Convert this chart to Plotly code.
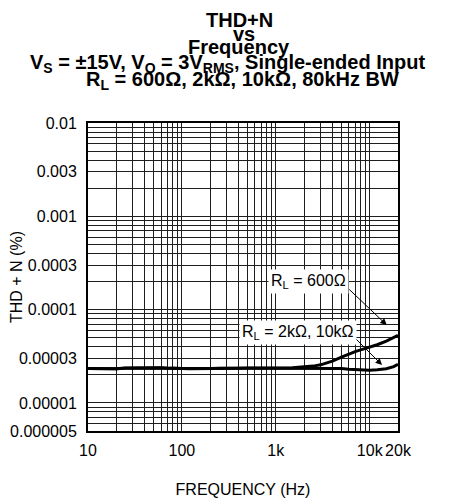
import math
import plotly.graph_objects as go

# ---- data ----
freq_hz = [10, 12, 15, 20, 25, 30, 40, 50, 60, 70, 80, 100, 120, 150, 200, 250, 300, 400, 500,
           700, 1000, 1500, 2000, 2500, 3000, 4000, 5000, 6000, 7000, 8000, 10000, 12000,
           15000, 18000, 20000]
thdn_600 = [2.34e-5, 2.33e-5, 2.32e-5, 2.32e-5, 2.36e-5, 2.37e-5, 2.38e-5, 2.36e-5, 2.38e-5, 2.35e-5,
            2.37e-5, 2.34e-5, 2.33e-5, 2.34e-5, 2.34e-5, 2.35e-5, 2.34e-5, 2.35e-5, 2.36e-5,
            2.35e-5, 2.36e-5, 2.38e-5, 2.42e-5, 2.48e-5, 2.56e-5, 2.8e-5, 3.1e-5, 3.35e-5,
            3.55e-5, 3.7e-5, 3.95e-5, 4.2e-5, 4.6e-5, 5.0e-5, 5.3e-5]
thdn_2k10k = [2.34e-5, 2.33e-5, 2.32e-5, 2.32e-5, 2.35e-5, 2.36e-5, 2.37e-5, 2.35e-5, 2.37e-5, 2.35e-5,
              2.36e-5, 2.34e-5, 2.33e-5, 2.34e-5, 2.34e-5, 2.35e-5, 2.34e-5, 2.35e-5, 2.35e-5,
              2.35e-5, 2.36e-5, 2.37e-5, 2.38e-5, 2.38e-5, 2.37e-5, 2.36e-5, 2.34e-5, 2.3e-5,
              2.28e-5, 2.25e-5, 2.24e-5, 2.27e-5, 2.32e-5, 2.45e-5, 2.6e-5]

x_tick_vals = [10, 100, 1000, 10000, 20000]
x_tick_text = ["10", "100", "1k", "10k", "20k"]
y_tick_vals = [0.01, 0.003, 0.001, 0.0003, 0.0001, 0.00003, 0.00001, 0.000005]
y_tick_text = ["0.01", "0.003", "0.001", "0.0003", "0.0001", "0.00003", "0.00001", "0.000005"]

title_lines = ["THD+N", "vs", "Frequency",
               "V<sub>S</sub> = ±15V, V<sub>O</sub> = 3V<sub>RMS</sub>, Single-ended Input",
               "R<sub>L</sub> = 600Ω, 2kΩ, 10kΩ, 80kHz BW"]
label_600 = "R<sub>L</sub> = 600Ω"
label_2k = "R<sub>L</sub> = 2kΩ, 10kΩ"

# minor grid values
x_minor = [m * 10 ** d for d in range(1, 5) for m in range(1, 10) if m * 10 ** d <= 20000]
y_minor = [m * 10 ** d for d in range(-6, -1) for m in range(1, 10)
           if 5e-6 <= m * 10 ** d <= 0.01]

FONT = "Liberation Sans, Arial, sans-serif"
GRID = "#1e1e1e"

fig = go.Figure()
fig.add_trace(go.Scatter(x=freq_hz, y=thdn_2k10k, mode="lines",
                         line=dict(color="black", width=3), showlegend=False))
fig.add_trace(go.Scatter(x=freq_hz, y=thdn_600, mode="lines",
                         line=dict(color="black", width=3), showlegend=False))

# page offset due to default body margin
OFF = 8
W, H = 461 - OFF, 500 - OFF
L, T = 88 - OFF, 123 - OFF
R, B = W - (398 - OFF), H - (431 - OFF)
pw, ph = W - L - R, H - T - B

def py2paper(py):
    return (H - B - (py - OFF)) / ph

def px2paper(px):
    return ((px - OFF) - L) / pw

annotations = []
title_pos = [(239, 20), (244, 34), (239, 47), (227.5, 63), (242, 80)]
for txt, (cx, cy) in zip(title_lines, title_pos):
    annotations.append(dict(text="<b>" + txt + "</b>", xref="paper", yref="paper",
                            x=px2paper(cx), y=py2paper(cy), xanchor="center", yanchor="middle",
                            showarrow=False, font=dict(family=FONT, size=20, color="black")))

# label boxes (text only)
annotations.append(dict(text=label_600, x=3.348, y=-3.70, xref="x", yref="y",
                        showarrow=False, bgcolor="white", borderpad=2,
                        font=dict(family=FONT, size=16, color="black")))
annotations.append(dict(text=label_2k, x=3.236, y=-4.24, xref="x", yref="y",
                        showarrow=False, bgcolor="white", borderpad=2,
                        font=dict(family=FONT, size=16, color="black")))
# arrows
annotations.append(dict(text="", x=4.181, y=-4.165, xref="x", yref="y",
                        showarrow=True, ax=-39, ay=-37, arrowhead=2, arrowsize=1.3,
                        arrowwidth=1, arrowcolor="black"))
annotations.append(dict(text="", x=4.131, y=-4.594, xref="x", yref="y",
                        showarrow=True, ax=-27, ay=-27, arrowhead=2, arrowsize=1.3,
                        arrowwidth=1, arrowcolor="black"))

fig.update_layout(
    width=W, height=H,
    margin=dict(l=L, r=R, t=T, b=B),
    paper_bgcolor="white", plot_bgcolor="white",
    font=dict(family=FONT, size=16, color="black"),
    annotations=annotations,
    showlegend=False,
)
fig.update_xaxes(type="log", range=[1, math.log10(20000)], automargin=False,
                 tickmode="array", tickvals=x_tick_vals, ticktext=x_tick_text,
                 tickangle=0,
                 showgrid=True, gridcolor=GRID, gridwidth=1, ticks="",
                 ticklabelstandoff=4,
                 minor=dict(tickvals=x_minor, showgrid=True, gridcolor=GRID, gridwidth=1, ticks=""),
                 showline=True, mirror=True, linecolor="black", linewidth=2,
                 zeroline=False,
                 title=dict(text="FREQUENCY (Hz)", font=dict(family=FONT, size=16), standoff=26),
                 tickfont=dict(family=FONT, size=16))
fig.update_yaxes(type="log", range=[math.log10(5e-6), -2], automargin=False,
                 tickmode="array", tickvals=y_tick_vals, ticktext=y_tick_text,
                 showgrid=True, gridcolor=GRID, gridwidth=1, ticks="",
                 ticklabelstandoff=6,
                 minor=dict(tickvals=y_minor, showgrid=True, gridcolor=GRID, gridwidth=1, ticks=""),
                 showline=True, mirror=True, linecolor="black", linewidth=2,
                 zeroline=False,
                 title=dict(text="THD + N (%)", font=dict(family=FONT, size=16), standoff=4),
                 tickfont=dict(family=FONT, size=16))

fig.write_html("out.html")
